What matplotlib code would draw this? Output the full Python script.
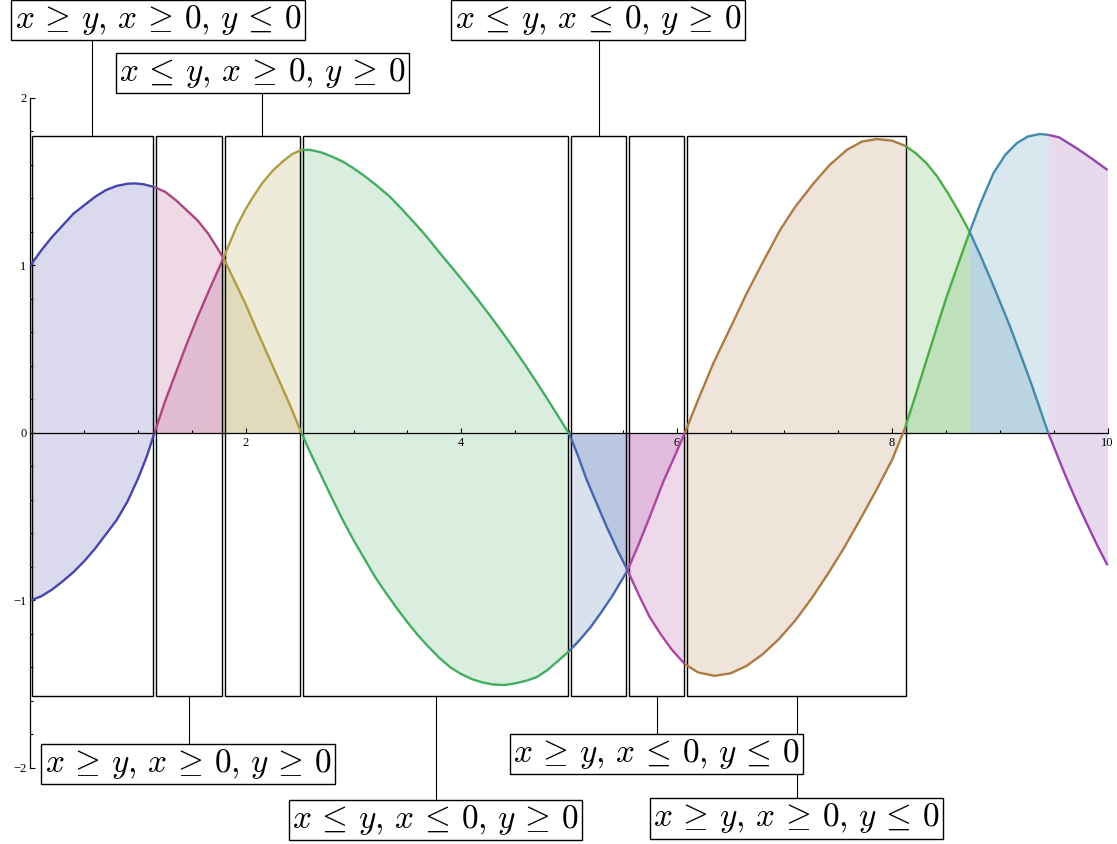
"""Two curves with region fills and condition boxes (Mathematica-style)."""

import matplotlib
matplotlib.use('Agg')

import matplotlib.pyplot as plt
import matplotlib.ticker as ticker
from matplotlib.patches import Rectangle
import numpy as np

# ── Curve data ──────────────────────────────────────────────────────────────
# curve "x" (starts at +1)
XC_T = [0.0, 0.1, 0.2, 0.3, 0.4, 0.5, 0.6, 0.7, 0.8, 0.9, 0.97, 1.05, 1.151,
        1.25, 1.35, 1.45, 1.55, 1.65, 1.792, 1.9, 2.0, 2.1, 2.2, 2.3, 2.4, 2.516,
        2.6, 2.7, 2.8, 2.9, 3.0, 3.1, 3.2, 3.3, 3.4, 3.5, 3.6, 3.7, 3.8, 3.9,
        4.0, 4.1, 4.2, 4.3, 4.4, 4.5, 4.6, 4.7, 4.8, 4.9, 5.005,
        5.1, 5.2, 5.3, 5.4, 5.544, 5.65, 5.75, 5.876, 5.98, 6.075,
        6.2, 6.34, 6.5, 6.65, 6.8, 6.96, 7.1, 7.27, 7.42, 7.58, 7.72, 7.86,
        8.0, 8.12, 8.22, 8.32, 8.42, 8.52, 8.62, 8.72, 8.82, 8.92, 9.0, 9.095,
        9.2, 9.3, 9.38, 9.45, 9.6, 9.7, 9.8, 9.9, 10.0]
XC_V = [1.0, 1.09, 1.17, 1.24, 1.31, 1.36, 1.41, 1.45, 1.475, 1.488, 1.49,
        1.485, 1.468, 1.44, 1.39, 1.33, 1.27, 1.19, 1.045, 0.90, 0.765, 0.615,
        0.47, 0.325, 0.18, 0.0,
        -0.12, -0.255, -0.39, -0.52, -0.64, -0.75, -0.86, -0.955, -1.045,
        -1.13, -1.21, -1.28, -1.345, -1.40, -1.44, -1.47, -1.49, -1.502,
        -1.505, -1.495, -1.48, -1.458, -1.415, -1.36, -1.30,
        -1.235, -1.16, -1.07, -0.975, -0.82, -0.66, -0.50, -0.29, -0.14, 0.0,
        0.20, 0.416, 0.63, 0.834, 1.02, 1.212, 1.35, 1.49, 1.60, 1.69, 1.74,
        1.755, 1.745, 1.715, 1.67, 1.61, 1.53, 1.43, 1.32, 1.20, 1.06, 0.91,
        0.785, 0.635, 0.455, 0.28, 0.13, 0.0, -0.24, -0.39, -0.53, -0.665,
        -0.79]

# curve "y" (starts at -1)
YC_T = [0.0, 0.1, 0.2, 0.3, 0.4, 0.5, 0.6, 0.7, 0.8, 0.9, 1.0, 1.08, 1.151,
        1.25, 1.35, 1.45, 1.55, 1.65, 1.792, 1.85, 1.914, 2.0, 2.069, 2.15,
        2.255, 2.35, 2.43, 2.516, 2.6, 2.7, 2.8, 2.9, 3.0, 3.1, 3.2, 3.338,
        3.45, 3.6, 3.7, 3.802, 3.9, 4.0, 4.1, 4.2, 4.3, 4.4, 4.5, 4.6, 4.7,
        4.8, 4.9, 5.005, 5.08, 5.164, 5.25, 5.35, 5.45, 5.544, 5.65, 5.75,
        5.85, 5.95, 6.075, 6.2, 6.35, 6.5, 6.65, 6.8, 6.95, 7.1, 7.25, 7.4,
        7.55, 7.7, 7.85, 8.0, 8.12, 8.22, 8.32, 8.42, 8.507, 8.62, 8.72, 8.82,
        8.94, 9.05, 9.157, 9.26, 9.373, 9.45, 9.55, 9.714, 9.85, 10.0]
YC_V = [-1.0, -0.975, -0.935, -0.885, -0.83, -0.765, -0.69, -0.605, -0.52,
        -0.41, -0.27, -0.14, 0.0, 0.19, 0.36, 0.53, 0.69, 0.84, 1.045, 1.135,
        1.232, 1.34, 1.411, 1.49, 1.57, 1.625, 1.665, 1.69, 1.69, 1.675, 1.65,
        1.62, 1.58, 1.535, 1.485, 1.41, 1.335, 1.23, 1.155, 1.073, 0.998,
        0.92, 0.84, 0.757, 0.672, 0.584, 0.493, 0.399, 0.302, 0.202, 0.10,
        -0.01, -0.13, -0.28, -0.41, -0.56, -0.70, -0.82, -0.97, -1.10, -1.20,
        -1.29, -1.38, -1.43, -1.45, -1.435, -1.39, -1.32, -1.23, -1.12, -0.99,
        -0.845, -0.69, -0.52, -0.345, -0.16, 0.03, 0.23, 0.436, 0.64, 0.814,
        1.02, 1.20, 1.37, 1.55, 1.66, 1.73, 1.77, 1.785, 1.78, 1.765, 1.70,
        1.64, 1.57]

# colour segments along t
SEG_EDGES = [0.0, 1.151, 1.792, 2.516, 5.005, 5.544, 6.075, 8.12, 8.72, 9.45, 10.0]
SEG_COLORS = ['#4745ad', '#ad4580', '#ad9e45', '#45ad61', '#4566ad',
              '#ad45a3', '#ad7b45', '#4cad45', '#4589ad', '#9545ad']

# condition boxes
BOX_EDGES = [0.0, 1.151, 1.792, 2.516, 5.005, 5.544, 6.083, 8.143]
BOX_LO, BOX_HI = -1.57, 1.773
BOX_GAP = 0.013

# labels: (box index, text, centre x, centre y)
LABELS = [
    (0, r'$x\,\geq\,y,\, x\,\geq\,0,\, y\,\leq\,0$', 1.184, 2.466),
    (2, r'$x\,\leq\,y,\, x\,\geq\,0,\, y\,\geq\,0$', 2.154, 2.149),
    (4, r'$x\,\leq\,y,\, x\,\leq\,0,\, y\,\geq\,0$', 5.27, 2.466),
    (1, r'$x\,\geq\,y,\, x\,\geq\,0,\, y\,\geq\,0$', 1.462, -1.976),
    (3, r'$x\,\leq\,y,\, x\,\leq\,0,\, y\,\geq\,0$', 3.76, -2.31),
    (5, r'$x\,\geq\,y,\, x\,\leq\,0,\, y\,\leq\,0$', 5.81, -1.916),
    (6, r'$x\,\geq\,y,\, x\,\geq\,0,\, y\,\leq\,0$', 7.11, -2.30),
]

XLO, XHI = -0.283, 10.088
YLO, YHI = -2.454, 2.585


def _segment(ts, vs, a, b):
    ts = np.asarray(ts)
    vs = np.asarray(vs)
    m = (ts >= a - 1e-9) & (ts <= b + 1e-9)
    return ts[m], vs[m]


def main() -> None:
    plt.rcParams['mathtext.fontset'] = 'cm'
    fig = plt.figure(figsize=(11.17, 8.44), dpi=100)
    ax = fig.add_axes([0, 0, 1, 1])

    # ── Fills and curves, one colour per segment ────────────────────────────
    for i, color in enumerate(SEG_COLORS):
        a, b = SEG_EDGES[i], SEG_EDGES[i + 1]
        for ts, vs in ((XC_T, XC_V), (YC_T, YC_V)):
            t, v = _segment(ts, vs, a, b)
            ax.fill_between(t, v, 0, color=color, alpha=0.2, lw=0, zorder=1)
            ax.plot(t, v, color=color, lw=1.7, solid_capstyle='butt',
                    solid_joinstyle='round', zorder=4)

    # ── Boxes ───────────────────────────────────────────────────────────────
    for a, b in zip(BOX_EDGES[:-1], BOX_EDGES[1:]):
        ax.add_patch(Rectangle((a + BOX_GAP, BOX_LO), b - a - 2 * BOX_GAP,
                               BOX_HI - BOX_LO, fill=False, edgecolor='black',
                               lw=1.0, zorder=3))

    # ── Labels with vertical leaders ────────────────────────────────────────
    for idx, text, tx, ty in LABELS:
        mid = 0.5 * (BOX_EDGES[idx] + BOX_EDGES[idx + 1])
        edge = BOX_HI if ty > 0 else BOX_LO
        ax.plot([mid, mid], [edge, ty], color='black', lw=0.8, zorder=5,
                clip_on=False)
        ax.text(tx, ty, text, fontsize=24, ha='center', va='center', zorder=6,
                bbox=dict(boxstyle='square,pad=0.1', facecolor='white',
                          edgecolor='black', lw=1.0))

    # ── Axes through the origin ─────────────────────────────────────────────
    ax.set_xlim(XLO, XHI)
    ax.set_ylim(YLO, YHI)
    for side in ('top', 'right'):
        ax.spines[side].set_visible(False)
    ax.spines['left'].set_position(('data', 0))
    ax.spines['bottom'].set_position(('data', 0))
    ax.spines['left'].set_bounds(-2, 2)
    ax.spines['bottom'].set_bounds(0, 10)
    for sp in ('left', 'bottom'):
        ax.spines[sp].set_linewidth(0.9)
        ax.spines[sp].set_zorder(2)

    ax.xaxis.set_major_locator(ticker.FixedLocator([2, 4, 6, 8, 10]))
    ax.xaxis.set_minor_locator(ticker.FixedLocator(np.arange(0.5, 10, 0.5)))
    ax.yaxis.set_major_locator(ticker.FixedLocator([-2, -1, 0, 1, 2]))
    ax.yaxis.set_minor_locator(ticker.FixedLocator(np.arange(-1.8, 2.0, 0.2)))
    ax.yaxis.set_major_formatter(ticker.FuncFormatter(
        lambda v, _: f'{int(v)}'.replace('-', '\u2212')))

    ax.tick_params(which='both', direction='in', width=0.8, labelsize=9, pad=3)
    ax.tick_params(which='major', length=3.6)
    ax.tick_params(which='minor', length=2.2)
    for lab in ax.get_xticklabels() + ax.get_yticklabels():
        lab.set_family('Liberation Serif')

    fig.savefig('out.png', dpi=100, facecolor='white')
    plt.close(fig)


if __name__ == "__main__":
    main()
